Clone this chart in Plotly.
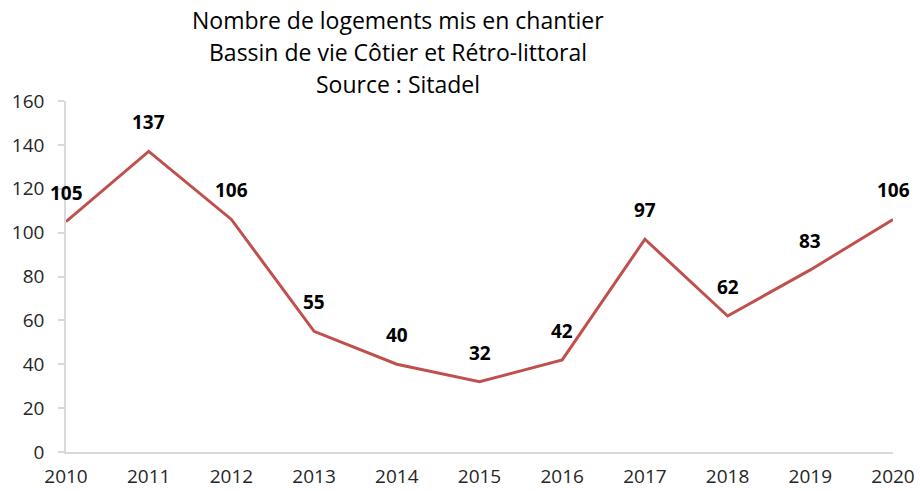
import plotly.graph_objects as go

years = [2010, 2011, 2012, 2013, 2014, 2015, 2016, 2017, 2018, 2019, 2020]
logements = [105, 137, 106, 55, 40, 32, 42, 97, 62, 83, 106]
y_ticks = [0, 20, 40, 60, 80, 100, 120, 140, 160]

title_lines = [
    "Nombre de logements mis en chantier",
    "Bassin de vie Côtier et Rétro-littoral",
    "Source : Sitadel",
]

FONT = "Open Sans"
LINE_COLOR = "#C0504D"
AXIS_COLOR = "#D9D9D9"
TICK_COLOR = "#262626"

fig = go.Figure()
fig.add_trace(go.Scatter(
    x=years, y=logements, mode="lines",
    line=dict(color=LINE_COLOR, width=3),
    hoverinfo="x+y", showlegend=False,
))

# value labels above each point
for yr, v in zip(years, logements):
    fig.add_annotation(
        x=yr, y=v, text=f"<b>{v}</b>", showarrow=False,
        yshift=29, font=dict(family=FONT, size=19, color="#000000"),
    )

# three-line centred title, one annotation per line
for i, line in enumerate(title_lines):
    fig.add_annotation(
        xref="paper", yref="paper",
        x=(398 - 66) / (893 - 66), y=(452 - (20 + 32 * i)) / 351,
        xanchor="center", yanchor="middle",
        text=line, showarrow=False,
        font=dict(family=FONT, size=23, color="#000000"),
    )

fig.update_layout(
    width=920, height=491,
    margin=dict(l=66, r=27, t=101, b=39, autoexpand=False),
    paper_bgcolor="white", plot_bgcolor="white",
    xaxis=dict(
        range=[2010, 2020], tickmode="array", tickvals=years,
        ticktext=[str(y) for y in years],
        showline=True, linecolor=AXIS_COLOR, linewidth=1.5,
        showgrid=False, zeroline=False, ticks="",
        ticklabelstandoff=6, automargin=False,
        tickfont=dict(family=FONT, size=19, color=TICK_COLOR),
        fixedrange=True,
    ),
    yaxis=dict(
        range=[0, 160], tickmode="array", tickvals=y_ticks,
        showline=True, linecolor=AXIS_COLOR, linewidth=1.5,
        showgrid=False, zeroline=False,
        ticks="outside", ticklen=6, tickcolor=AXIS_COLOR, tickwidth=1.5,
        ticklabelstandoff=10, automargin=False,
        tickfont=dict(family=FONT, size=19, color=TICK_COLOR),
        fixedrange=True,
    ),
)

fig.write_html("out.html")
